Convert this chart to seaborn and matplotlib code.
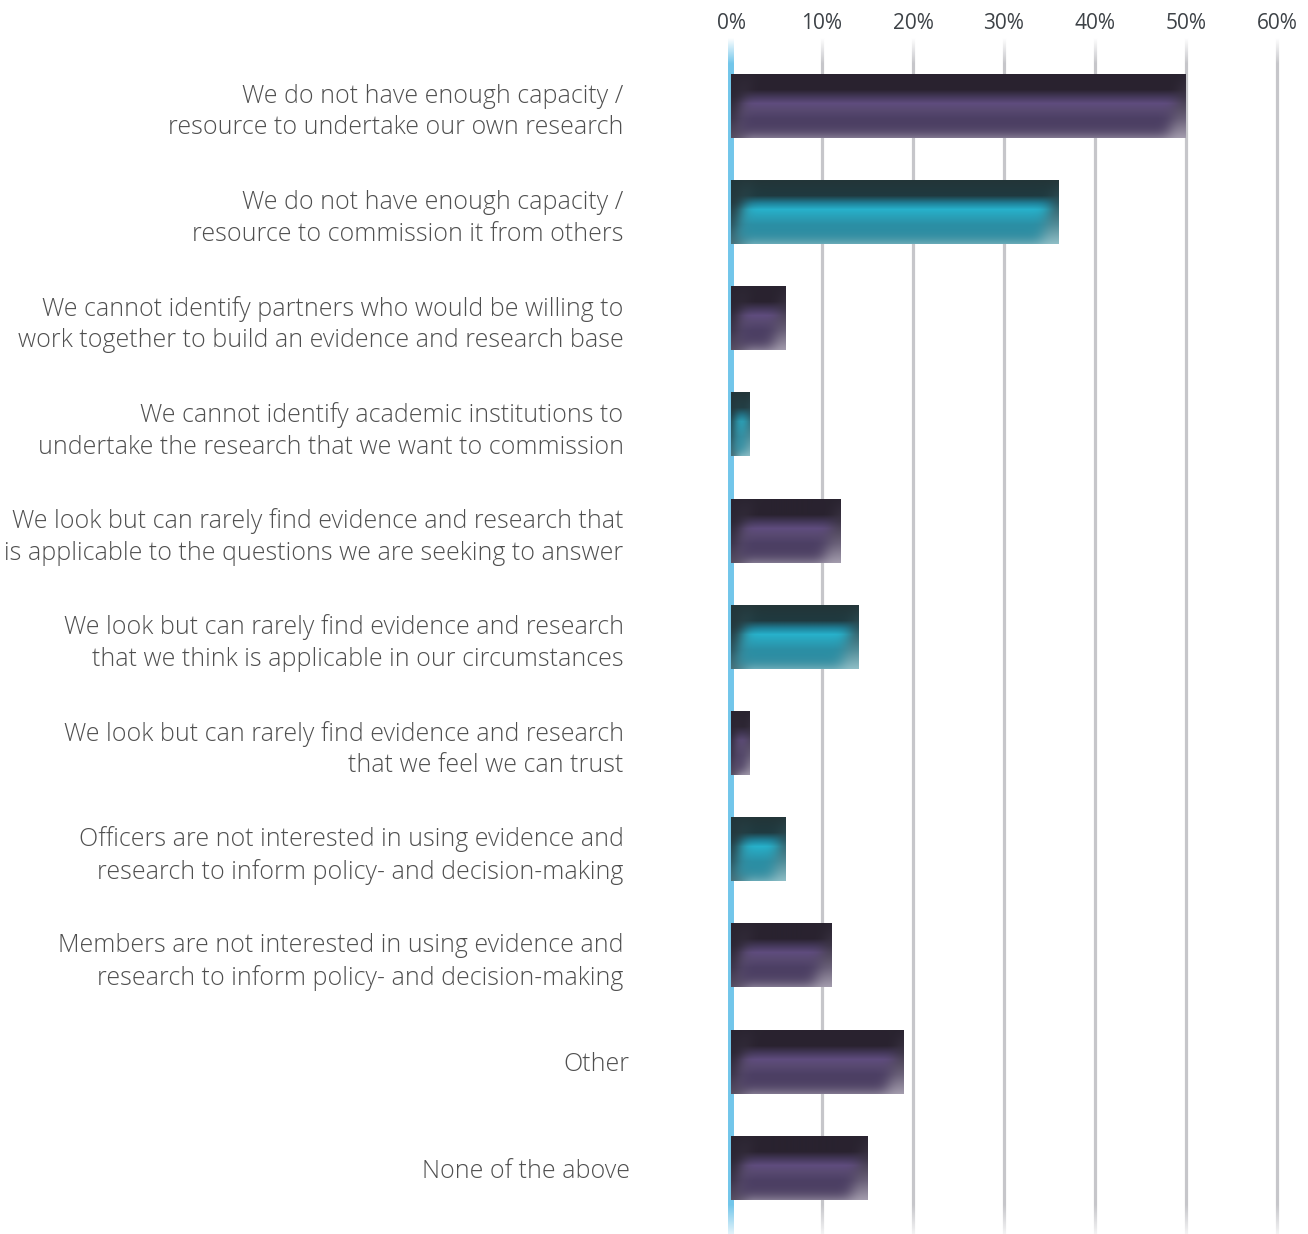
import numpy as np
import pandas as pd
import matplotlib
matplotlib.use("Agg")
import matplotlib.pyplot as plt
import matplotlib.transforms as mtransforms
from matplotlib.colors import to_rgb
import seaborn as sns

# Survey responses: barriers to using evidence and research
categories = [
    "We do not have enough capacity /\nresource to undertake our own research",
    "We do not have enough capacity /\nresource to commission it from others",
    "We cannot identify partners who would be willing to\nwork together to build an evidence and research base",
    "We cannot identify academic institutions to\nundertake the research that we want to commission",
    "We look but can rarely find evidence and research that\nis applicable to the questions we are seeking to answer",
    "We look but can rarely find evidence and research\nthat we think is applicable in our circumstances",
    "We look but can rarely find evidence and research\nthat we feel we can trust",
    "Officers are not interested in using evidence and\nresearch to inform policy- and decision-making",
    "Members are not interested in using evidence and\nresearch to inform policy- and decision-making",
    "Other",
    "None of the above",
]
values = [50, 36, 6, 2, 12, 14, 2, 6, 11, 19, 15]
tones = ["purple", "teal", "purple", "teal", "purple", "teal",
         "purple", "teal", "purple", "purple", "purple"]
tick_values = [0, 10, 20, 30, 40, 50, 60]
tick_labels = ["0%", "10%", "20%", "30%", "40%", "50%", "60%"]

df = pd.DataFrame({"category": categories, "value": values, "tone": tones})

# Shading recipes for the glossy bars
shades = {
    "purple": {
        "inner_stops": [0.0, 0.24, 0.36, 0.46, 0.56, 0.70, 1.0],
        "inner": ["#29232f", "#29222f", "#463a5d", "#5f4c7e", "#584971", "#4c3f64", "#4a3d60"],
        "frame_stops": [0.0, 0.35, 0.70, 1.0],
        "frame_left": ["#2a2430", "#2d2735", "#3d3548", "#5a5263"],
        "frame_right": ["#2c2633", "#3d3646", "#6c637a", "#a39cad"],
    },
    "teal": {
        "inner_stops": [0.0, 0.24, 0.36, 0.46, 0.56, 0.70, 1.0],
        "inner": ["#233538", "#1f3a40", "#1f8199", "#27b1cb", "#29a2ba", "#2b8fa5", "#2c8a9f"],
        "frame_stops": [0.0, 0.35, 0.70, 1.0],
        "frame_left": ["#22363a", "#253a3f", "#2f5058", "#4b6f77"],
        "frame_right": ["#26393d", "#2e5159", "#548c97", "#8fbec6"],
    },
}


def smooth(v):
    v = np.clip(v, 0, 1)
    return v * v * (3 - 2 * v)


def vprofile(t, stops, cols):
    rgb = np.array([to_rgb(c) for c in cols])
    return np.stack([np.interp(t, stops, rgb[:, k]) for k in range(3)], axis=-1)


def gauss_blur(a, sigma):
    r = int(3 * sigma)
    k = np.exp(-0.5 * (np.arange(-r, r + 1) / sigma) ** 2)
    k /= k.sum()
    a = np.apply_along_axis(lambda m: np.convolve(m, k, mode="same"), 0, a)
    a = np.apply_along_axis(lambda m: np.convolve(m, k, mode="same"), 1, a)
    return a


def bar_image(tone, w_px, h_px):
    spec = shades[tone]
    w = max(int(round(w_px)), 2)
    h = max(int(round(h_px)), 2)
    pad = 24
    yy, xx = np.mgrid[-pad:h + pad, -pad:w + pad].astype(float)
    ty = np.clip(yy / (h - 1), 0, 1)
    # glossy core: a slanted band with "/" shaped ends, scaled for short bars
    sl = min(18.0, 0.25 * w)
    sr = min(16.0, 0.2 * w)
    xl = min(2.0, 0.1 * w) + sl * (1 - ty)
    xr = (w - min(3.0, 0.1 * w)) - sr * ty
    core = ((xx >= xl) & (xx <= xr) & (yy <= h - 3)).astype(float)
    sigma = min(6.5, 2.0 + 0.15 * w)
    mask = gauss_blur(core, sigma)
    inner = vprofile(ty, spec["inner_stops"], spec["inner"])
    fl = vprofile(ty, spec["frame_stops"], spec["frame_left"])
    fr = vprofile(ty, spec["frame_stops"], spec["frame_right"])
    s = smooth(xx / min(24.0, 0.6 * w))[..., None]
    frame = fl * (1 - s) + fr * s
    img = inner * mask[..., None] + frame * (1 - mask[..., None])
    return np.clip(img[pad:pad + h, pad:pad + w], 0, 1)


sns.set_theme(style="white")
plt.rcParams["font.family"] = ["Open Sans", "DejaVu Sans"]

W, H = 1308, 1234
fig = plt.figure(figsize=(W / 100, H / 100), dpi=100)
ax_left, ax_right, ax_top, ax_bottom = 700, 1308, 38, 1234
ax = fig.add_axes([ax_left / W, 1 - ax_bottom / H, (ax_right - ax_left) / W, (ax_bottom - ax_top) / H])

sns.barplot(data=df, x="value", y="category", orient="h", width=0.6,
            color="#4a3d62", ax=ax, zorder=3)

px_per_unit = 9.1
x0 = -(731 - ax_left) / px_per_unit
x1 = 60 + (ax_right - 1277) / px_per_unit
row_px = 106.2
y_top = -(106 - ax_top) / row_px
y_bot = (ax_bottom - 106) / row_px

# Replace each flat bar with a shaded image occupying the same rectangle
for patch, tone in zip(ax.patches, df["tone"]):
    bx, by = patch.get_x(), patch.get_y()
    bw, bh = patch.get_width(), patch.get_height()
    img = bar_image(tone, bw * px_per_unit, bh * row_px)
    ax.imshow(img, extent=(bx, bx + bw, by + bh, by), aspect="auto",
              interpolation="bilinear", zorder=3, origin="upper")
    patch.set_visible(False)

# Vertical gridlines and the highlighted zero line
for v in tick_values[1:]:
    ax.axvline(v, color="#c6c6ca", lw=2.3, zorder=1)
ax.axvline(0, color="#72c6ea", lw=4.3, zorder=2)

ax.set_xlim(x0, x1)
ax.set_ylim(y_bot, y_top)

# Fade gridlines out at the top and bottom
fade_top = np.ones((40, 2, 4))
fade_top[..., 3] = np.linspace(1, 0, 40)[:, None]
ax.imshow(fade_top, extent=(x0, x1, y_top + 26 / row_px, y_top), aspect="auto",
          zorder=2.5, origin="upper", interpolation="bilinear")
fade_bot = np.ones((40, 2, 4))
fade_bot[..., 3] = np.linspace(0, 0.8, 40)[:, None]
ax.imshow(fade_bot, extent=(x0, x1, y_bot, y_bot - 30 / row_px), aspect="auto",
          zorder=2.5, origin="upper", interpolation="bilinear")
ax.set_xlim(x0, x1)
ax.set_ylim(y_bot, y_top)

ax.xaxis.tick_top()
ax.set_xticks(tick_values)
ax.set_xticklabels(tick_labels)
ax.tick_params(axis="x", length=0, pad=3, labelsize=15, labelcolor="#3d4247")
ax.tick_params(axis="y", length=0, pad=55, labelsize=18, labelcolor="#4f4f4f")
for lab in ax.get_yticklabels():
    lab.set_multialignment("right")
    lab.set_linespacing(1.34)
    lab.set_fontweight("light")
    if "\n" not in lab.get_text():
        lab.set_transform(lab.get_transform() +
                          mtransforms.ScaledTranslation(6 / 100, 0, fig.dpi_scale_trans))

ax.set_xlabel("")
ax.set_ylabel("")
for s in ax.spines.values():
    s.set_visible(False)
ax.grid(False)

fig.savefig("out.png", dpi=100, facecolor="white")
